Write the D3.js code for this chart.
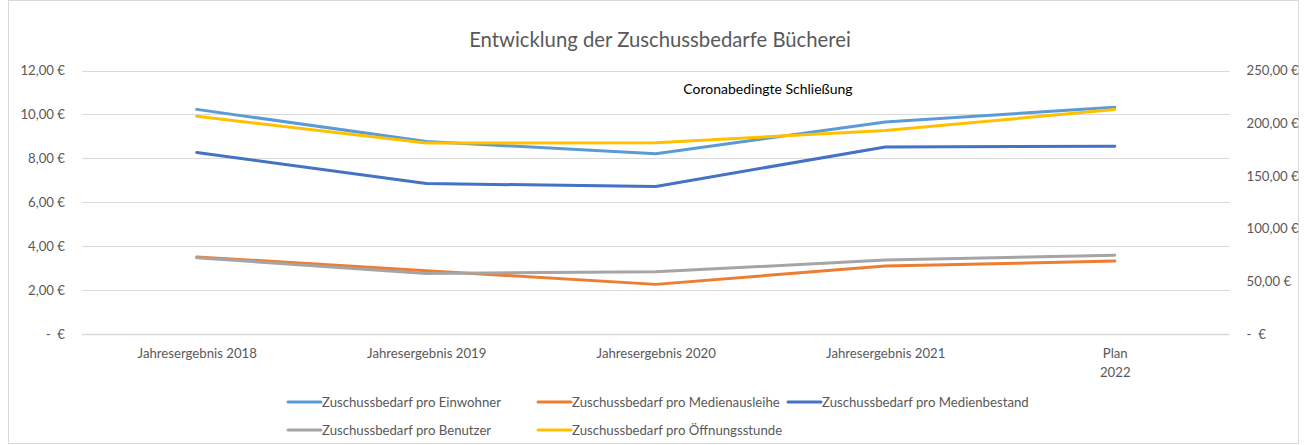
<!DOCTYPE html>
<html>
<head>
<meta charset="utf-8">
<script src="https://cdn.jsdelivr.net/npm/d3@7"></script>
<style>
  html, body { margin: 0; padding: 0; background: #fff; }
  svg { display: block; font-family: Lato, "Open Sans", sans-serif; }
  text { white-space: pre; }
</style>
</head>
<body>
<svg id="chart" width="1307" height="445"></svg>
<script>
const categories = ["Jahresergebnis 2018", "Jahresergebnis 2019", "Jahresergebnis 2020", "Jahresergebnis 2021", "Plan\n2022"];
const einwohner = [10.23, 8.77, 8.21, 9.65, 10.33];
const medienausleihe = [3.51, 2.88, 2.26, 3.10, 3.32];
const medienbestand = [8.27, 6.85, 6.72, 8.52, 8.55];
const benutzer = [72.3, 57.5, 59.0, 70.1, 74.8];
const oeffnungsstunde = [206.5, 181.2, 181.5, 193.0, 213.0];
const leftTicks = [0, 2, 4, 6, 8, 10, 12];
const rightTicks = [0, 50, 100, 150, 200, 250];
const title = "Entwicklung der Zuschussbedarfe Bücherei";
const annotation = "Coronabedingte Schließung";

const series = [
  { name: "Zuschussbedarf pro Einwohner", values: einwohner, axis: "left", color: "#5B9BD5" },
  { name: "Zuschussbedarf pro Medienausleihe", values: medienausleihe, axis: "left", color: "#ED7D31" },
  { name: "Zuschussbedarf pro Medienbestand", values: medienbestand, axis: "left", color: "#4472C4" },
  { name: "Zuschussbedarf pro Benutzer", values: benutzer, axis: "right", color: "#A5A5A5" },
  { name: "Zuschussbedarf pro Öffnungsstunde", values: oeffnungsstunde, axis: "right", color: "#FFC000" }
];

const svg = d3.select("#chart");
const plotL = 82, plotR = 1229.5, plotT = 70.5, plotB = 334;
const smallFont = "13.2px";

// chart border
svg.append("rect").attr("x", 8.5).attr("y", 0.5).attr("width", 1290).attr("height", 443)
  .attr("fill", "#fff").attr("stroke", "#d9d9d9").attr("stroke-width", 1);

const x = d3.scalePoint().domain(categories).range([plotL, plotR]).padding(0.5);
const yL = d3.scaleLinear().domain([0, 12]).range([plotB, plotT]);
const yR = d3.scaleLinear().domain([0, 250]).range([plotB, plotT]);

const fmt = v => v === 0 ? "-  €" : d3.format(",.2f")(v).replace(".", "#").replace(/,/g, ".").replace("#", ",") + " €";

// gridlines
svg.append("g").selectAll("line").data(leftTicks).join("line")
  .attr("x1", plotL).attr("x2", plotR)
  .attr("y1", d => Math.round(yL(d)) + 0.5).attr("y2", d => Math.round(yL(d)) + 0.5)
  .attr("stroke", "#d9d9d9").attr("stroke-width", d => d === 0 ? 1.5 : 1);

// left axis
const gl = svg.append("g").attr("transform", `translate(${plotL},0)`)
  .call(d3.axisLeft(yL).tickValues(leftTicks).tickSize(0).tickPadding(17).tickFormat(fmt));
gl.select(".domain").remove();
gl.selectAll("text").attr("fill", "#595959").attr("font-size", smallFont)
  .attr("font-family", "Lato, sans-serif");

// right axis
const gr = svg.append("g").attr("transform", `translate(${plotR},0)`)
  .call(d3.axisRight(yR).tickValues(rightTicks).tickSize(0).tickPadding(17).tickFormat(fmt));
gr.select(".domain").remove();
gr.selectAll("text").attr("fill", "#595959").attr("font-size", smallFont)
  .attr("font-family", "Lato, sans-serif");

// x axis labels
const gx = svg.append("g").attr("transform", `translate(0,${plotB})`)
  .call(d3.axisBottom(x).tickSize(0).tickPadding(0).tickFormat(""));
gx.select(".domain").remove();
gx.selectAll(".tick").each(function(d) {
  const lines = d.split("\n");
  const t = d3.select(this).append("text").attr("fill", "#595959").attr("font-size", smallFont)
    .attr("text-anchor", "middle").attr("font-family", "Lato, sans-serif");
  lines.forEach((ln, i) => {
    t.append("tspan").attr("x", 0).attr("y", 23.5 + i * 19).text(ln);
  });
});

// lines
const lineL = d3.line().x((d, i) => x(categories[i])).y(d => yL(d));
const lineR = d3.line().x((d, i) => x(categories[i])).y(d => yR(d));
svg.append("g").selectAll("path").data(series).join("path")
  .attr("d", s => (s.axis === "left" ? lineL : lineR)(s.values))
  .attr("fill", "none").attr("stroke", s => s.color).attr("stroke-width", 3)
  .attr("stroke-linejoin", "round").attr("stroke-linecap", "round");

// title
svg.append("text").attr("x", 660).attr("y", 46.5).attr("text-anchor", "middle")
  .attr("fill", "#595959").attr("font-size", "20.3px").text(title);

// annotation
svg.append("text").attr("x", 768).attr("y", 93.5).attr("text-anchor", "middle")
  .attr("fill", "#000").attr("font-size", "14px").text(annotation);

// legend
const legendPos = [[288, 402], [538, 402], [788, 402], [288, 430], [538, 430]];
const lg = svg.append("g").selectAll("g").data(series).join("g")
  .attr("transform", (s, i) => `translate(${legendPos[i][0]},${legendPos[i][1]})`);
lg.append("line").attr("x1", 0).attr("x2", 33).attr("y1", 0).attr("y2", 0)
  .attr("stroke", s => s.color).attr("stroke-width", 3).attr("stroke-linecap", "round");
lg.append("text").attr("x", 34).attr("y", 4.8).attr("fill", "#595959").attr("font-size", smallFont)
  .text(s => s.name);
</script>
</body>
</html>
